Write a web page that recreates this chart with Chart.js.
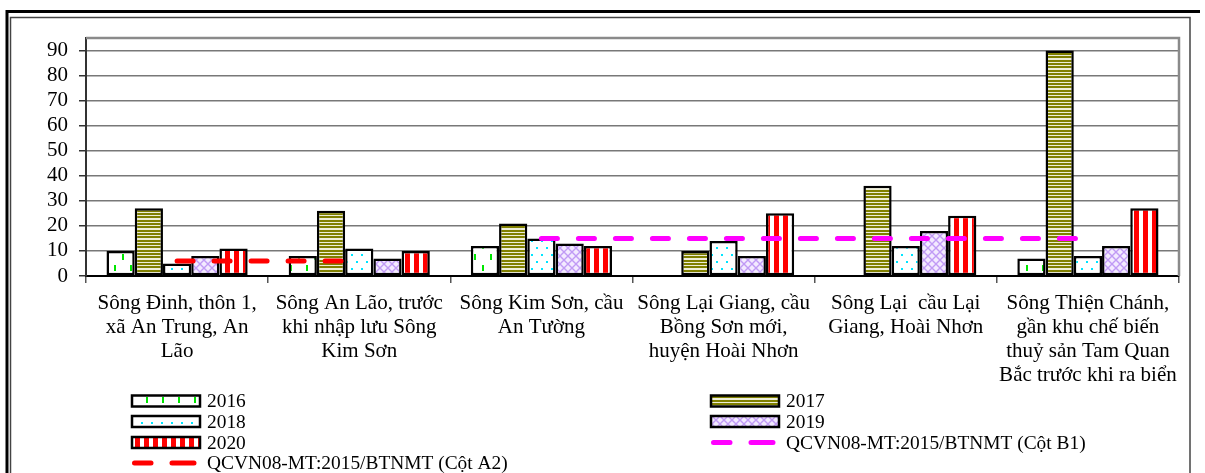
<!DOCTYPE html>
<html>
<head>
<meta charset="utf-8">
<script src="https://cdn.jsdelivr.net/npm/chart.js@4.4.1/dist/chart.umd.min.js"></script>
<style>
  html, body { margin: 0; padding: 0; background: #fff; }
  canvas { display: block; }
</style>
</head>
<body>
<canvas id="chart" width="1205" height="473"></canvas>
<script>
// Monitoring stations (multi-line axis labels)
const stations = [
  ["Sông Đinh, thôn 1,", "xã An Trung, An", "Lão"],
  ["Sông An Lão, trước", "khi nhập lưu Sông", "Kim Sơn"],
  ["Sông Kim Sơn, cầu", "An Tường"],
  ["Sông Lại Giang, cầu", "Bồng Sơn mới,", "huyện Hoài Nhơn"],
  ["Sông Lại  cầu Lại", "Giang, Hoài Nhơn"],
  ["Sông Thiện Chánh,", "gần khu chế biến", "thuỷ sản Tam Quan", "Bắc trước khi ra biển"]
];

// Measured values (mg/l) per year
const values2016 = [10, 8, 12, null, null, 7];
const values2017 = [27, 26, 21, 10, 36, 90];
const values2018 = [5, 11, 15, 14, 12, 8];
const values2019 = [8, 7, 13, 8, 18, 12];
const values2020 = [11, 10, 12, 25, 24, 27];

// Regulation limits
const limitB1 = [null, null, 15, 15, 15, 15];
const limitA2 = [6, 6, null, null, null, null];

const seriesLabels = ["2016", "2017", "2018", "2019", "2020",
  "QCVN08-MT:2015/BTNMT (Cột B1)", "QCVN08-MT:2015/BTNMT (Cột A2)"];

// Value axis range
const yMin = 0;
const yMax = 95;
const yStep = 10;

const FONT = "'Liberation Serif', 'Times New Roman', serif";

const canvas = document.getElementById('chart');
const ctx = canvas.getContext('2d');

function makePattern(w, h, draw) {
  const c = document.createElement('canvas');
  c.width = w; c.height = h;
  const g = c.getContext('2d');
  draw(g, w, h);
  return ctx.createPattern(c, 'repeat');
}

// Fill patterns for each year
const fill2016 = makePattern(16, 22, (g, w, h) => {
  g.fillStyle = '#ffffff'; g.fillRect(0, 0, w, h);
  g.fillStyle = '#00e600';
  g.fillRect(2, 1, 2, 6);
  g.fillRect(10, 12, 2, 6);
});
const fill2017 = makePattern(1, 10, (g, w, h) => {
  g.fillStyle = '#808000'; g.fillRect(0, 0, w, h);
  g.fillStyle = '#eeeed8';
  [2, 5, 8, 9].forEach(r => g.fillRect(0, r, w, 1));
});
const fill2018 = makePattern(10, 14, (g, w, h) => {
  g.fillStyle = '#ffffff'; g.fillRect(0, 0, w, h);
  g.fillStyle = '#00e5ff';
  g.fillRect(1, 2, 2, 2);
  g.fillRect(6, 9, 2, 2);
});
const fill2019 = makePattern(8, 8, (g, w, h) => {
  g.fillStyle = '#f3eaff'; g.fillRect(0, 0, w, h);
  g.strokeStyle = '#c09af5'; g.lineWidth = 1.4;
  g.beginPath();
  g.moveTo(0, 0); g.lineTo(8, 8);
  g.moveTo(8, 0); g.lineTo(0, 8);
  g.stroke();
});
const fill2020 = makePattern(9, 1, (g, w, h) => {
  g.fillStyle = '#ffffff'; g.fillRect(0, 0, w, h);
  g.fillStyle = '#ff0000'; g.fillRect(0, 0, 5, h);
});

function barSet(label, data, fill) {
  return {
    type: 'bar', label, data,
    backgroundColor: fill,
    borderColor: '#000000',
    borderWidth: 2.5,
    borderSkipped: false,
    categoryPercentage: 0.775,
    barPercentage: 1,
    order: 1
  };
}
function limitSet(label, data, color) {
  return {
    type: 'line', label, data,
    borderColor: color,
    backgroundColor: color,
    borderWidth: 5,
    borderDash: [16, 21],
    borderCapStyle: 'round',
    pointRadius: 0,
    fill: false,
    spanGaps: false,
    order: 0
  };
}

// Outer double frame of the figure
const framePlugin = {
  id: 'frame',
  afterDraw(chart) {
    const c = chart.ctx;
    c.save();
    c.strokeStyle = '#000';
    c.lineWidth = 3;
    c.beginPath();
    c.moveTo(6, 11.5); c.lineTo(1200, 11.5);
    c.moveTo(7, 10); c.lineTo(7, 473);
    c.stroke();
    c.strokeStyle = '#444';
    c.lineWidth = 1.5;
    c.beginPath();
    c.moveTo(10.5, 480); c.lineTo(10.5, 17.5); c.lineTo(1190, 17.5); c.lineTo(1190, 480);
    c.stroke();
    c.restore();
  }
};

// Grey plot-area border on top and right
const plotBorderPlugin = {
  id: 'plotBorder',
  beforeDatasetsDraw(chart) {
    const a = chart.chartArea;
    const c = chart.ctx;
    c.save();
    c.strokeStyle = '#8a8a8a';
    c.lineWidth = 2.5;
    c.beginPath();
    c.moveTo(a.left, a.top); c.lineTo(a.right, a.top); c.lineTo(a.right, a.bottom);
    c.stroke();
    c.restore();
  }
};

// Two-column legend below the axis
const legendPlugin = {
  id: 'twoColLegend',
  afterDraw(chart) {
    const c = chart.ctx;
    const slots = [
      { x: 132, y: 401 }, { x: 711, y: 401 },
      { x: 132, y: 421.5 }, { x: 711, y: 421.5 },
      { x: 132, y: 442.5 }, { x: 711, y: 442.5 },
      { x: 132, y: 463 }
    ];
    c.save();
    c.font = '19.4px ' + FONT;
    c.textBaseline = 'middle';
    c.textAlign = 'left';
    chart.data.datasets.forEach((ds, i) => {
      const s = slots[i];
      if (!s) return;
      if (ds.type === 'bar') {
        c.fillStyle = ds.backgroundColor;
        c.fillRect(s.x, s.y - 5.5, 68, 11);
        c.strokeStyle = '#000';
        c.lineWidth = 2.5;
        c.strokeRect(s.x, s.y - 5.5, 68, 11);
      } else {
        c.strokeStyle = ds.borderColor;
        c.lineWidth = 5;
        c.lineCap = 'round';
        c.beginPath();
        c.moveTo(s.x + 2.5, s.y); c.lineTo(s.x + 19, s.y);
        c.moveTo(s.x + 40, s.y); c.lineTo(s.x + 62, s.y);
        c.stroke();
      }
      c.fillStyle = '#000';
      c.fillText(ds.label, s.x + 75, s.y + 1);
    });
    c.restore();
  }
};

new Chart(ctx, {
  data: {
    labels: stations,
    datasets: [
      barSet(seriesLabels[0], values2016, fill2016),
      barSet(seriesLabels[1], values2017, fill2017),
      barSet(seriesLabels[2], values2018, fill2018),
      barSet(seriesLabels[3], values2019, fill2019),
      barSet(seriesLabels[4], values2020, fill2020),
      limitSet(seriesLabels[5], limitB1, '#ff00ff'),
      limitSet(seriesLabels[6], limitA2, '#ff0000')
    ]
  },
  options: {
    responsive: false,
    animation: false,
    layout: { padding: { left: 0, top: 38, right: 26, bottom: 0 } },
    plugins: {
      legend: { display: false },
      tooltip: { enabled: false },
      title: { display: false }
    },
    scales: {
      x: {
        type: 'category',
        offset: true,
        grid: {
          offset: true,
          drawOnChartArea: false,
          drawTicks: true,
          tickLength: 7,
          color: '#555',
          lineWidth: 1.5
        },
        border: { display: true, color: '#000', width: 2 },
        ticks: {
          color: '#000',
          font: { family: FONT, size: 21, lineHeight: '24px' },
          padding: 8,
          maxRotation: 0,
          minRotation: 0,
          autoSkip: false
        },
        afterFit(scale) { scale.height = 197; }
      },
      y: {
        min: yMin,
        max: yMax,
        grid: {
          color: '#787878',
          lineWidth: 1.5,
          tickLength: 7,
          tickColor: '#333'
        },
        border: { display: true, color: '#333', width: 2 },
        ticks: {
          stepSize: yStep,
          includeBounds: false,
          autoSkip: false,
          maxTicksLimit: 20,
          color: '#000',
          padding: 11,
          font: { family: FONT, size: 21, lineHeight: 1 }
        },
        afterFit(scale) { scale.width = 86; }
      }
    }
  },
  plugins: [plotBorderPlugin, legendPlugin, framePlugin]
});
</script>
</body>
</html>
